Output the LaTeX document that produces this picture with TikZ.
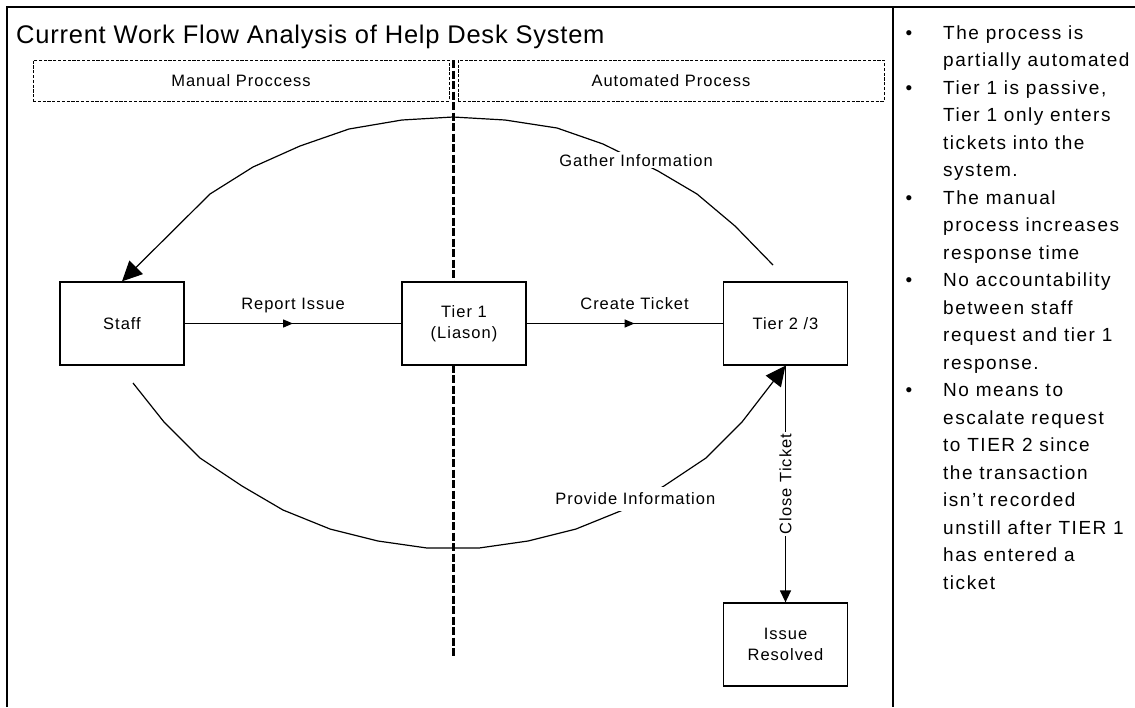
\documentclass[tikz,border=0pt]{standalone}
\usepackage{fontspec}
\setmainfont{Liberation Sans}[LetterSpace=6]
\newfontfamily\titlefont{Liberation Sans}[LetterSpace=3]
\newfontfamily\notefont{Liberation Sans}[LetterSpace=8]
\usetikzlibrary{arrows.meta,decorations.markings}
\newcommand\notebullet{\leavevmode\llap{\textbullet\hspace{31pt}}}

\begin{document}
\begin{tikzpicture}[x=1pt,y=-1pt,
  lbl/.style={font=\fontsize{16.5}{20}\selectfont, inner sep=2pt},
  procbox/.style={draw, line width=1.3pt, fill=white, minimum width=124pt,
    minimum height=83pt, align=center, inner sep=0pt,
    font=\fontsize{16.5}{21.5}\selectfont},
  lanebox/.style={draw, line width=0.9pt, dash pattern=on 3.2pt off 1.6pt,
    minimum height=41pt, inner sep=0pt, font=\fontsize{16.5}{20}\selectfont},
  frameline/.style={line width=1.8pt},
  divider/.style={line width=3pt, dash pattern=on 8pt off 2.5pt},
  flow/.style={line width=1.4pt},
  midarrow/.style={decoration={markings,
      mark=at position #1 with {\arrow{Triangle[length=10pt,width=8pt]}}},
    postaction={decorate}},
  loop/.style={line width=1.2pt, -{Triangle[length=20pt,width=19pt]}},
  onlabel/.style={lbl, fill=white}
]
\useasboundingbox (0,0) rectangle (1135,707);

% outer frame and notes column divider
\coordinate (fbl) at (7,707);
\coordinate (ftl) at (7,7);
\coordinate (ftr) at (1135,7);
\coordinate (ctop) at (893,7);
\coordinate (cbot) at (893,707);
\draw[frameline] (fbl) -- (ftl) -- (ftr);
\draw[frameline] (ctop) -- (cbot);

% title
\node[anchor=base west, inner sep=0pt, font=\titlefont\fontsize{25.5}{30}\selectfont]
  (title) at (16,43) {Current Work Flow Analysis of Help Desk System};

% swim lanes
\node[lanebox, minimum width=416pt] (manual) at (241,80.5) {Manual Proccess};
\node[lanebox, minimum width=426pt] (auto) at (671,80.5) {Automated Process};

% lane boundary
\coordinate (divtop) at (453,60);
\coordinate (divbot) at (453,657);
\draw[divider] (divtop) -- (divbot);

% process boxes
\node[procbox] (staff) at (122,323.5) {Staff};
\node[procbox] (tier1) at (464,323.5) {Tier 1\\(Liason)};
\node[procbox] (tier2) at (785.5,323.5) {Tier 2 /3};
\node[procbox] (issue) at (785.5,644.5) {Issue\\Resolved};

% gather information loop (tier 2/3 back to staff)
\coordinate (gstart) at (773,265);
\draw[loop] (gstart) -- (735,226) -- (697,194) -- (658,171)
  -- node[onlabel, pos=0.4] {Gather Information} (603,144)
  -- (557,128) -- (505,120) -- (453,117) -- (402,120) -- (349,129)
  -- (300,146) -- (253,167) -- (210,194) -- (staff.north);

% provide information loop (staff around to tier 2/3)
\coordinate (pstart) at (133,383);
\draw[loop] (pstart) -- (164,422) -- (200,458) -- (242,486) -- (283,510)
  -- (330,529) -- (378,541) -- (427,548) -- (479,548) -- (528,541)
  -- (576,529) -- (623,510)
  -- node[onlabel, pos=0.3, inner ysep=6pt, yshift=4pt] {Provide Information} (664,486)
  -- (706,458) -- (742,422) -- (tier2.south);

% main flow
\draw[flow, midarrow=0.5] (staff.east) --
  node[lbl, pos=0.5, anchor=base, yshift=14.5pt] {Report Issue} (tier1.west);
\draw[flow, midarrow=0.55] (tier1.east) --
  node[lbl, pos=0.55, anchor=base, yshift=14.5pt] {Create Ticket} (tier2.west);
\draw[flow, -{Triangle[length=12pt,width=11pt]}] (tier2.south) --
  node[onlabel, rotate=90] {Close Ticket} (issue.north);

% observations
\node[anchor=base west, inner sep=0pt] (notes) at (943,39) {%
  \begin{minipage}[t]{190pt}
  \notefont\fontsize{19}{27.5}\selectfont\raggedright
  \notebullet The process is\\
  partially automated\\
  \notebullet Tier 1 is passive,\\
  Tier 1 only enters\\
  tickets into the\\
  system.\\
  \notebullet The manual\\
  process increases\\
  response time\\
  \notebullet No accountability\\
  between staff\\
  request and tier 1\\
  response.\\
  \notebullet No means to\\
  escalate request\\
  to TIER 2 since\\
  the transaction\\
  isn’t recorded\\
  unstill after TIER 1\\
  has entered a\\
  ticket
  \end{minipage}};
\end{tikzpicture}
\end{document}
